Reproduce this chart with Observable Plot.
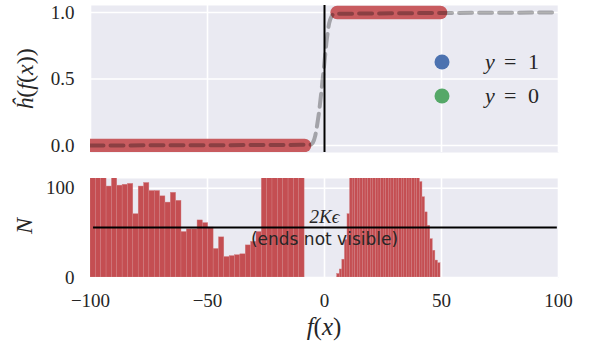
<!DOCTYPE html>
<html>
<head>
<meta charset="utf-8">
<script src="https://cdn.jsdelivr.net/npm/d3@7"></script>
<script src="https://cdn.jsdelivr.net/npm/@observablehq/plot@0.6"></script>
<style>
  html, body { margin: 0; padding: 0; background: #fff; }
  #chart { width: 598px; }
  #chart svg { display: block; }
</style>
</head>
<body>
<div id="chart"></div>
<script>
// ---- data ----
const xDomain = [-100, 100];
const xTicks = [-100, -50, 0, 50, 100];
const topTicks = [0, 0.5, 1.0];
const bottomTicks = [0, 100];

// predictions: negatives (h = 0) and positives (h = 1)
const negRange = [-100, -8.5];
const posRange = [5.4, 49.6];
const negLevel = 0;
const posLevel = 1;

// dashed sigmoid curve
const sigX = [-100, -6, -5, -4, -3, -2, -1, 0, 1, 2, 3, 4, 100];
const sigY = [0, 0.005, 0.02, 0.07, 0.17, 0.3, 0.46, 0.63, 0.8, 0.92, 0.97, 0.99, 1];

// histogram counts, 40 bins each (bars above 111 are clipped: "ends not visible")
const negCounts = [130,125,118,102,114,103,104,105,71,102,106,97,97,91,84,95,86,51,54,54,
                   64,61,56,32,45,23,24,25,26,36,40,51,160,210,260,320,380,450,520,600];
const posCounts = [4,9,20,42,71,130,160,190,220,240,260,275,290,300,305,310,305,300,295,290,
                   285,280,270,260,250,235,220,200,180,160,140,120,107,90,73,58,43,30,19,16];

// 2Kε level line
const kLevel = 56;
const kSpan = [-98.7, 99.5];
const kLabel = "2Kϵ";
const kNote = "(ends not visible)";

// legend
const legendLabels = ["1", "0"];
const legendColors = ["#4c72b0", "#55a868"];

// ---- styling ----
const RED = "#c44e52";
const BG = "#eaeaf2";
const INK = "#262626";
const SERIF = "'Liberation Serif', 'DejaVu Serif', serif";

function bins(range, counts) {
  const w = (range[1] - range[0]) / counts.length;
  return counts.map((n, i) => ({x1: range[0] + i * w, x2: range[0] + (i + 1) * w, n}));
}
const histRows = bins(negRange, negCounts).concat(bins(posRange, posCounts));
const bandRows = [
  {x: negRange[0], y: negLevel, g: "neg"}, {x: negRange[1], y: negLevel, g: "neg"},
  {x: posRange[0], y: posLevel, g: "pos"}, {x: posRange[1], y: posLevel, g: "pos"}
];
const sigRows = sigX.map((x, i) => ({x, y: sigY[i]}));

const W = 598, ML = 90, MR = 40;

const topPlot = Plot.plot({
  width: W, height: 165, marginLeft: ML, marginRight: MR, marginTop: 5, marginBottom: 13,
  style: {fontFamily: SERIF, fontSize: "19px", color: INK, background: "transparent", overflow: "visible"},
  x: {domain: xDomain, axis: null},
  y: {domain: [-0.053, 1.053], ticks: topTicks, tickFormat: d3.format(".1f"), tickSize: 0, tickPadding: 16, label: null},
  marks: [
    Plot.frame({fill: BG, stroke: "none"}),
    Plot.ruleX(xTicks, {stroke: "white", strokeWidth: 1.6}),
    Plot.ruleY(topTicks, {stroke: "white", strokeWidth: 1.6}),
    Plot.line(bandRows, {x: "x", y: "y", z: "g", stroke: RED, strokeWidth: 13.5, strokeOpacity: 0.92, strokeLinecap: "round", clip: true}),
    Plot.line(sigRows, {x: "x", y: "y", curve: "monotone-x", stroke: "black", strokeOpacity: 0.3, strokeWidth: 4, strokeDasharray: "13,7", clip: true}),
    Plot.ruleX([0], {stroke: "black", strokeWidth: 2})
  ]
});

const bottomPlot = Plot.plot({
  width: W, height: 181, marginLeft: ML, marginRight: MR, marginTop: 13, marginBottom: 69,
  style: {fontFamily: SERIF, fontSize: "19px", color: INK, background: "transparent", overflow: "visible"},
  x: {domain: xDomain, ticks: xTicks, tickSize: 0, tickPadding: 16, label: null},
  y: {domain: [0, 111], ticks: bottomTicks, tickSize: 0, tickPadding: 16, label: null},
  marks: [
    Plot.frame({fill: BG, stroke: "none"}),
    Plot.ruleX(xTicks, {stroke: "white", strokeWidth: 1.6}),
    Plot.ruleY(bottomTicks, {stroke: "white", strokeWidth: 1.6}),
    Plot.rectY(histRows, {x1: "x1", x2: "x2", y: "n", fill: RED, stroke: "#d28084", strokeWidth: 0.4, inset: 0, clip: true}),
    Plot.ruleY([kLevel], {x1: kSpan[0], x2: kSpan[1], stroke: "black", strokeWidth: 2}),
    Plot.text([kLabel], {x: 0, y: kLevel, text: d => d, lineAnchor: "bottom", dy: -5, fontStyle: "italic", fontFamily: SERIF, fontSize: 19, fill: INK}),
    Plot.text([kNote], {x: 0, y: kLevel, text: d => d, lineAnchor: "top", dy: 5, fontFamily: "'DejaVu Sans', sans-serif", fontSize: 17, fill: INK})
  ]
});

const chart = document.getElementById("chart");
chart.appendChild(topPlot);
chart.appendChild(bottomPlot);

// axis labels with italic math parts
function mathText(svg, x, y, rotate, parts, size) {
  const t = d3.select(svg).append("text")
    .attr("transform", `translate(${x},${y}) rotate(${rotate})`)
    .attr("text-anchor", "middle")
    .attr("fill", INK)
    .style("font-family", SERIF)
    .style("font-size", size + "px");
  parts.forEach(([s, it]) => t.append("tspan").text(s).style("font-style", it ? "italic" : "normal"));
  return t;
}
mathText(topPlot, 33, 79, -90, [["ĥ", 1], ["(", 0], ["f", 1], ["(", 0], ["x", 1], ["))", 0]], 24);
mathText(bottomPlot, 32, 61, -90, [["N", 1]], 24);
mathText(bottomPlot, 324, 170, 0, [["f", 1], ["(", 0], ["x", 1], [")", 0]], 25);

// legend
const lg = d3.select(topPlot).append("g");
legendLabels.forEach((lab, i) => {
  const cy = 62 + i * 34;
  lg.append("circle").attr("cx", 442).attr("cy", cy).attr("r", 7.5).attr("fill", legendColors[i]);
  const t = lg.append("text").attr("y", cy + 7).attr("fill", INK).attr("text-anchor", "start")
    .style("font-family", SERIF).style("font-size", "22px");
  t.append("tspan").attr("x", 485).text("y").style("font-style", "italic");
  t.append("tspan").attr("x", 504).text("=");
  t.append("tspan").attr("x", 528).text(lab);
});
</script>
</body>
</html>
